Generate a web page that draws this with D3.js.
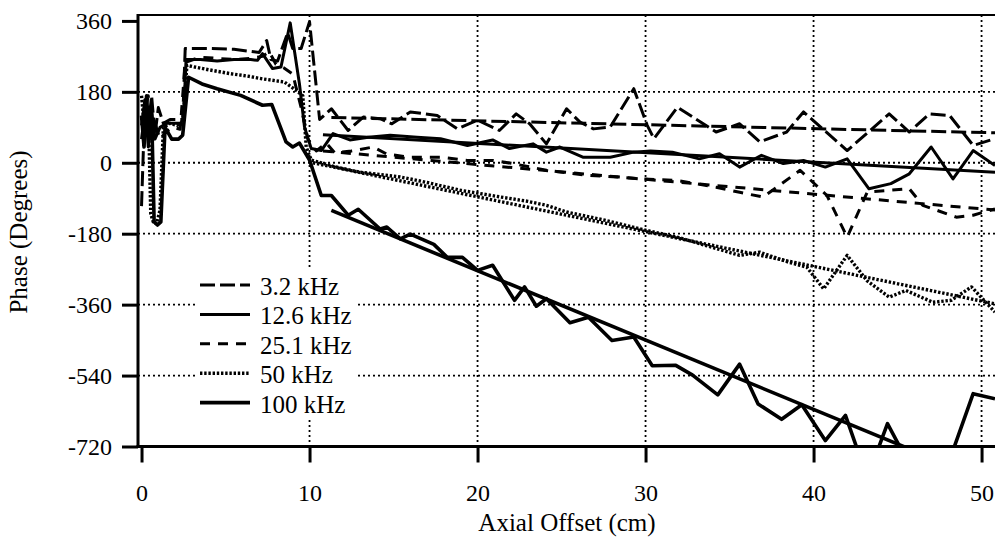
<!DOCTYPE html>
<html><head><meta charset="utf-8">
<script src="https://cdn.jsdelivr.net/npm/d3@7/dist/d3.min.js"></script>
<style>body{margin:0;background:#fff}svg{display:block}text{font-family:"Liberation Serif","Times New Roman",serif;fill:#000}</style>
</head><body><svg id="c" width="995" height="547"></svg>
<script>
// ---------- data ----------
const xTicks = [0, 10, 20, 30, 40, 50];
const yTicks = [360, 180, 0, -180, -360, -540, -720];
const legendLabels = ["3.2 kHz", "12.6 kHz", "25.1 kHz", "50 kHz", "100 kHz"];

const x3k = [0.0,0.2,0.4,0.6,0.8,1.0,1.3,1.7,2.1,2.45,2.6,4.0,5.5,7.0,7.45,7.7,8.1,8.7,9.0,9.5,10.0,10.6,11.3,12.3,13.2,14.2,14.9,16.0,17.6,18.8,20.0,21.3,22.3,23.1,24.1,25.3,26.1,26.9,27.9,29.3,30.1,30.5,31.9,34.2,35.6,36.8,38.4,39.4,42.0,44.5,45.7,46.9,48.1,49.5,50.8];
const y3k = [-110,150,90,170,70,140,100,110,110,110,290,290,288,280,310,262,258,330,290,290,358,110,137,82,116,112,99,129,120,86,108,82,124,99,48,137,103,86,91,188,95,61,141,78,99,53,78,129,31,124,78,124,120,44,61];

const x12k = [0.0,0.2,0.4,0.6,0.8,1.1,1.5,1.9,2.3,2.5,2.65,3.5,4.5,5.5,6.5,6.9,7.2,7.8,8.3,8.85,9.4,9.7,10.1,10.7,11.4,12.4,13.5,14.8,16.4,17.8,19.4,20.9,21.9,23.3,24.1,24.9,26.3,27.9,29.3,30.3,31.6,33.2,34.4,35.6,36.9,38.2,39.4,40.7,42.0,43.3,44.6,45.7,47.0,48.3,49.5,50.8];
const y12k = [95,160,40,130,60,90,100,100,100,110,262,262,258,262,262,260,277,239,243,355,200,91,36,31,74,58,65,70,65,61,44,58,36,48,27,40,14,14,27,30,27,10,23,-11,19,-2,6,-11,10,-66,-53,-28,40,-41,31,-7];

const x25k = [0.0,0.2,0.4,0.6,0.8,1.1,1.5,1.9,2.3,2.6,3.5,4.5,5.5,6.5,7.2,7.6,8.0,8.5,9.0,9.5,9.9,10.4,11.0,11.5,12.5,13.8,14.6,16.0,17.8,19.4,20.9,22.1,24.1,26.3,28.3,29.9,31.9,34.2,35.6,37.0,39.2,40.8,42.0,43.2,44.5,45.7,46.5,48.5,49.5,50.8];
const y25k = [60,130,170,80,100,60,80,90,85,255,268,265,262,265,270,282,250,240,225,140,60,30,50,25,30,40,22,14,14,6,6,-2,-19,-31,-36,-41,-45,-62,-75,-87,-19,-83,-189,-74,-70,-66,-108,-138,-133,-117];

const x50k = [0.0,0.2,0.4,0.55,0.7,0.9,1.1,1.3,1.7,2.1,2.45,2.7,4.0,5.3,6.3,7.2,8.5,9.2,9.6,9.8,10.1,11.5,13.0,15.4,17.0,19.0,21.4,23.0,24.1,25.3,27.5,30.1,32.0,34.0,35.6,36.8,38.5,39.6,40.6,42.0,43.2,44.5,45.5,47.1,48.2,49.4,50.8];
const y50k = [170,80,140,-130,-150,-155,-120,90,100,95,100,247,236,226,220,213,205,184,170,40,7,-10,-24,-36,-50,-70,-87,-98,-108,-125,-145,-172,-190,-215,-235,-227,-252,-265,-320,-235,-300,-341,-324,-354,-349,-315,-379];

const x100k = [0.0,0.15,0.3,0.45,0.6,0.75,0.95,1.15,1.4,1.8,2.2,2.45,2.8,3.6,4.5,5.9,7.2,7.75,8.6,9.0,9.4,10.0,10.7,11.3,12.3,12.9,14.2,14.6,15.4,16.0,17.4,18.2,19.1,20.0,20.9,22.2,22.8,23.5,24.1,25.5,26.6,28.0,29.3,30.4,31.8,32.8,34.3,35.6,36.7,38.1,39.3,40.7,41.9,43.2,44.4,46.0,47.8,49.5,50.8];
const y100k = [120,40,170,60,130,-150,-158,-150,90,60,60,70,217,200,188,171,146,148,53,40,50,7,-83,-83,-133,-118,-168,-163,-193,-181,-207,-240,-240,-273,-260,-349,-315,-364,-345,-406,-392,-451,-442,-515,-514,-539,-589,-511,-612,-651,-614,-705,-641,-800,-662,-790,-790,-586,-599];

// linear fits drawn over the data (endpoints)
const fit3kX = [11.3, 50.8],  fit3kY = [115, 76];
const fit12kX = [10.8, 50.8], fit12kY = [71, -24];
const fit25kX = [10.8, 50.8], fit25kY = [30, -120];
const fit50kX = [10.2, 50.8], fit50kY = [0, -358];
const fit100kX = [11.3, 45.7], fit100kY = [-121, -726];

// ---------- drawing ----------
const svg = d3.select("#c");
const L = 138, R = 995, T = 15, B = 446.5;
const x = d3.scaleLinear().domain([-0.21, 50.8]).range([L, R]);
const y = d3.scaleLinear().domain([-720, 375]).range([B, T]);

const styles = [
  {dash: "15,5", w: 3},
  {dash: null, w: 3},
  {dash: "10,8", w: 3},
  {dash: "2.4,1.8", w: 3.4},
  {dash: null, w: 3.6}
];

svg.append("defs").append("clipPath").attr("id","clip")
  .append("rect").attr("x", L).attr("y", T).attr("width", R - L).attr("height", B - T);

// grid
const grid = svg.append("g").attr("stroke","#000").attr("stroke-width",1.8).attr("stroke-dasharray","2,3");
[10,20,30,40,50].forEach(v => grid.append("line").attr("x1", x(v)).attr("x2", x(v)).attr("y1", T).attr("y2", B));
[180,0,-180,-360,-540].forEach(v => grid.append("line").attr("x1", L).attr("x2", R).attr("y1", y(v)).attr("y2", y(v)));

// series
const line = d3.line().x(d => x(d[0])).y(d => y(d[1]));
const series = [[x3k,y3k],[x12k,y12k],[x25k,y25k],[x50k,y50k],[x100k,y100k]];
const fits = [[fit3kX,fit3kY],[fit12kX,fit12kY],[fit25kX,fit25kY],[fit50kX,fit50kY],[fit100kX,fit100kY]];
const plot = svg.append("g").attr("clip-path","url(#clip)");
series.forEach((s, i) => {
  const pts = s[0].map((v, k) => [v, s[1][k]]);
  plot.append("path").datum(pts).attr("d", line).attr("fill","none").attr("stroke","#000")
    .attr("stroke-width", styles[i].w).attr("stroke-linejoin","round")
    .attr("stroke-dasharray", styles[i].dash);
});
fits.forEach((f, i) => {
  const pts = f[0].map((v, k) => [v, f[1][k]]);
  plot.append("path").datum(pts).attr("d", line).attr("fill","none").attr("stroke","#000")
    .attr("stroke-width", styles[i].w).attr("stroke-dasharray", styles[i].dash);
});

// axes
const fmt = d => String(d);
const yAxis = svg.append("g").attr("transform", `translate(${L},0)`)
  .call(d3.axisLeft(y).tickValues(yTicks).tickSize(16).tickSizeOuter(0).tickPadding(10).tickFormat(fmt));
yAxis.select(".domain").remove();
yAxis.selectAll(".tick line").attr("stroke-width", 3);
yAxis.selectAll("text").attr("font-size", 24).attr("font-family","Liberation Serif");

const xAxis = svg.append("g").attr("transform", `translate(0,${B})`)
  .call(d3.axisBottom(x).tickValues(xTicks).tickSize(16).tickSizeOuter(0).tickFormat(fmt));
xAxis.select(".domain").remove();
xAxis.selectAll(".tick line").attr("stroke-width", 3);
xAxis.selectAll("text").attr("font-size", 24).attr("font-family","Liberation Serif").attr("y", 54.5).attr("dy", 0);

// frame
svg.append("line").attr("x1", L).attr("x2", L).attr("y1", T - 1).attr("y2", B + 1.5).attr("stroke","#000").attr("stroke-width",3);
svg.append("line").attr("x1", L - 1.5).attr("x2", R).attr("y1", B).attr("y2", B).attr("stroke","#000").attr("stroke-width",3.2);
svg.append("line").attr("x1", L).attr("x2", R).attr("y1", T).attr("y2", T).attr("stroke","#000").attr("stroke-width",2.2);

// titles
svg.append("text").attr("x", 567).attr("y", 531).attr("text-anchor","middle").attr("font-size", 25).text("Axial Offset (cm)");
svg.append("text").attr("transform","translate(27,232) rotate(-90)").attr("text-anchor","middle").attr("font-size", 25).text("Phase (Degrees)");

// legend
const lg = svg.append("g");
lg.append("rect").attr("x",195).attr("y",270).attr("width",163).attr("height",147).attr("fill","#fff");
legendLabels.forEach((lab, i) => {
  const ly = 285 + 29.4 * i;
  lg.append("line").attr("x1",200).attr("x2",250).attr("y1",ly).attr("y2",ly).attr("stroke","#000")
    .attr("stroke-width", styles[i].w).attr("stroke-dasharray", styles[i].dash);
  lg.append("text").attr("x",260).attr("y",ly+10).attr("font-size",25).text(lab);
});
</script></body></html>
